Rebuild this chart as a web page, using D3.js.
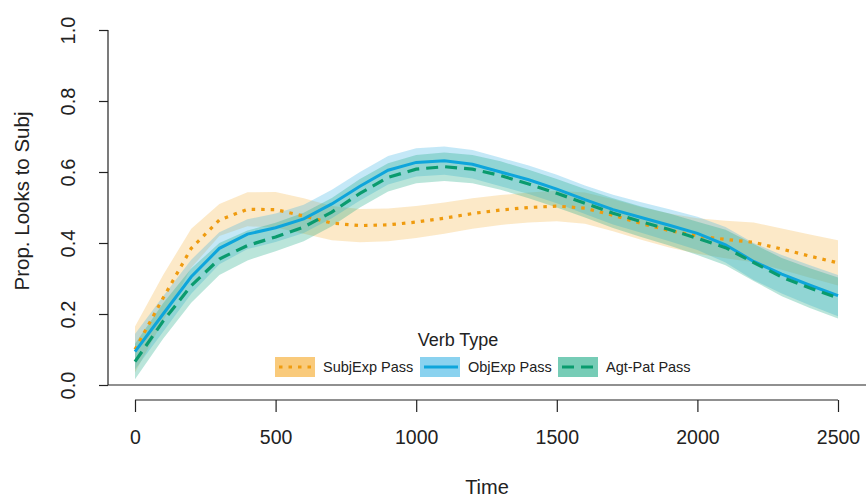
<!DOCTYPE html>
<html>
<head>
<meta charset="utf-8">
<script src="https://cdn.jsdelivr.net/npm/d3@7"></script>
<style>
  body { margin: 0; background: #fff; }
  svg { display: block; font-family: "Liberation Sans", Arial, sans-serif; }
</style>
</head>
<body>
<svg id="chart" width="866" height="497"></svg>
<script>
// time bins (ms)
const times = [0, 100, 200, 300, 400, 500, 600, 700, 800, 900, 1000, 1100, 1200,
  1300, 1400, 1500, 1600, 1700, 1800, 1900, 2000, 2100, 2200, 2300, 2400, 2500];

// mean proportion of looks to subject, per verb type
const subjExpMean = [0.100, 0.245, 0.385, 0.465, 0.495, 0.494, 0.476, 0.456, 0.449, 0.451, 0.459, 0.470, 0.483,
  0.493, 0.500, 0.504, 0.498, 0.478, 0.455, 0.435, 0.420, 0.410, 0.402, 0.383, 0.363, 0.344];
const objExpMean = [0.094, 0.200, 0.305, 0.385, 0.425, 0.443, 0.468, 0.510, 0.560, 0.605, 0.627, 0.632, 0.622,
  0.600, 0.578, 0.552, 0.522, 0.494, 0.472, 0.450, 0.427, 0.395, 0.348, 0.312, 0.281, 0.252];
const agtPatMean = [0.066, 0.180, 0.280, 0.355, 0.393, 0.417, 0.445, 0.487, 0.540, 0.585, 0.608, 0.615, 0.608,
  0.590, 0.566, 0.540, 0.512, 0.484, 0.460, 0.438, 0.413, 0.387, 0.345, 0.304, 0.273, 0.245];

// half-width of the confidence band
const subjExpCI = [0.065, 0.065, 0.055, 0.045, 0.048, 0.050, 0.050, 0.048, 0.047, 0.046, 0.045, 0.044, 0.043,
  0.042, 0.042, 0.043, 0.044, 0.045, 0.046, 0.048, 0.050, 0.053, 0.056, 0.058, 0.061, 0.064];
const objExpCI = [0.050, 0.050, 0.048, 0.045, 0.042, 0.040, 0.040, 0.040, 0.040, 0.040, 0.040, 0.040, 0.040,
  0.040, 0.040, 0.040, 0.040, 0.042, 0.043, 0.045, 0.047, 0.050, 0.052, 0.054, 0.056, 0.058];
const agtPatCI = [0.050, 0.050, 0.048, 0.045, 0.042, 0.040, 0.040, 0.040, 0.040, 0.040, 0.040, 0.040, 0.040,
  0.040, 0.040, 0.040, 0.040, 0.042, 0.043, 0.045, 0.047, 0.050, 0.052, 0.054, 0.056, 0.058];

const seriesNames = ["SubjExp Pass", "ObjExp Pass", "Agt-Pat Pass"];
const xTicks = [0, 500, 1000, 1500, 2000, 2500];
const yTicks = [0.0, 0.2, 0.4, 0.6, 0.8, 1.0];

const styles = [
  { line: "#EF9B0F", fill: "#F5A623", dash: "3.5,6", cap: "butt", width: 3.2 },
  { line: "#0EA5DB", fill: "#3CB4E5", dash: null, cap: "butt", width: 3 },
  { line: "#0A9B6E", fill: "#1AAA85", dash: "12,7", cap: "butt", width: 3.2 }
];

const series = [
  { name: seriesNames[0], mean: subjExpMean, ci: subjExpCI },
  { name: seriesNames[1], mean: objExpMean, ci: objExpCI },
  { name: seriesNames[2], mean: agtPatMean, ci: agtPatCI }
];

const svg = d3.select("#chart");

const x = d3.scaleLinear().domain([0, 2500]).range([135, 838]);
const y = d3.scaleLinear().domain([0, 1]).range([385, 30]);

// bands
const area = d3.area()
  .x((d, i) => x(times[i]))
  .y0(d => y(d.lo))
  .y1(d => y(d.hi));

series.forEach((s, k) => {
  const pts = s.mean.map((m, i) => ({ lo: m - s.ci[i], hi: m + s.ci[i] }));
  svg.append("path")
    .datum(pts)
    .attr("d", area)
    .attr("fill", styles[k].fill)
    .attr("fill-opacity", k === 0 ? 0.25 : 0.3);
});

// mean lines
const line = d3.line()
  .x((d, i) => x(times[i]))
  .y(d => y(d));

series.forEach((s, k) => {
  svg.append("path")
    .datum(s.mean)
    .attr("d", line)
    .attr("fill", "none")
    .attr("stroke", styles[k].line)
    .attr("stroke-width", styles[k].width)
    .attr("stroke-linecap", styles[k].cap)
    .attr("stroke-dasharray", styles[k].dash);
});

// frame (left + bottom)
svg.append("line")
  .attr("x1", 108).attr("x2", 866)
  .attr("y1", 385).attr("y2", 385)
  .attr("stroke", "#222").attr("stroke-width", 1.2);

// y axis
const yAxis = svg.append("g")
  .attr("transform", "translate(108,0)")
  .call(d3.axisLeft(y).tickValues(yTicks).tickSize(9).tickFormat(d3.format(".1f")));
yAxis.select(".domain").attr("stroke", "#222").attr("stroke-width", 1.2).attr("d", "M0,30V385");
yAxis.selectAll(".tick line").attr("stroke", "#222").attr("stroke-width", 1.2);
yAxis.selectAll(".tick text")
  .attr("x", 0).attr("dy", null)
  .attr("transform", "translate(-40,0) rotate(-90)")
  .attr("text-anchor", "middle")
  .attr("dominant-baseline", "central")
  .attr("font-size", 20)
  .attr("font-family", "Liberation Sans, Arial, sans-serif")
  .attr("fill", "#222");

// x axis
const xAxis = svg.append("g")
  .attr("transform", "translate(0,400)")
  .call(d3.axisBottom(x).tickValues(xTicks).tickSize(12).tickFormat(d3.format("d")));
xAxis.select(".domain").attr("stroke", "#222").attr("stroke-width", 1.2).attr("d", "M135,0H838");
xAxis.selectAll(".tick line").attr("stroke", "#222").attr("stroke-width", 1.2);
xAxis.selectAll(".tick text")
  .attr("y", 37).attr("dy", null)
  .attr("dominant-baseline", "central")
  .attr("font-size", 19.5)
  .attr("font-family", "Liberation Sans, Arial, sans-serif")
  .attr("fill", "#222");

// axis titles
svg.append("text")
  .attr("x", 487).attr("y", 487)
  .attr("text-anchor", "middle")
  .attr("dominant-baseline", "central")
  .attr("font-size", 20)
  .attr("fill", "#222")
  .text("Time");

svg.append("text")
  .attr("transform", "translate(21,201) rotate(-90)")
  .attr("text-anchor", "middle")
  .attr("dominant-baseline", "central")
  .attr("font-size", 20.5)
  .attr("fill", "#222")
  .text("Prop. Looks to Subj");

// legend
const legend = svg.append("g");
legend.append("text")
  .attr("x", 458).attr("y", 340)
  .attr("text-anchor", "middle")
  .attr("dominant-baseline", "central")
  .attr("font-size", 18)
  .attr("fill", "#222")
  .text("Verb Type");

const legendX = [275, 420, 558];
series.forEach((s, k) => {
  const g = legend.append("g").attr("transform", `translate(${legendX[k]},357)`);
  g.append("rect")
    .attr("width", 40).attr("height", 20)
    .attr("fill", styles[k].fill)
    .attr("fill-opacity", 0.6);
  g.append("line")
    .attr("x1", 4).attr("x2", 38)
    .attr("y1", 10).attr("y2", 10)
    .attr("stroke", styles[k].line)
    .attr("stroke-width", styles[k].width)
    .attr("stroke-linecap", styles[k].cap)
    .attr("stroke-dasharray", styles[k].dash);
  g.append("text")
    .attr("x", 48).attr("y", 10)
    .attr("dominant-baseline", "central")
    .attr("font-size", 14.5)
    .attr("fill", "#222")
    .text(s.name);
});
</script>
</body>
</html>
